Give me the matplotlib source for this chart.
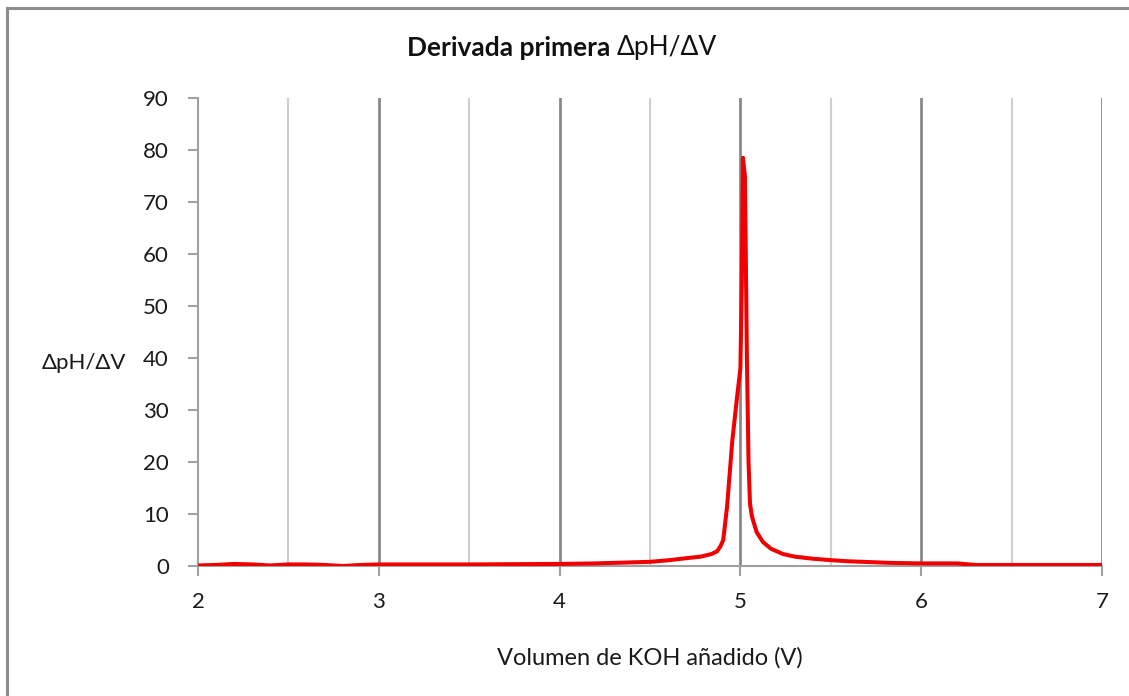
import matplotlib
matplotlib.use('Agg')
import matplotlib.pyplot as plt
from matplotlib.patches import Rectangle

# volumen de KOH (mL) y primera derivada dpH/dV
vol = [2.0, 2.1, 2.2, 2.3, 2.4, 2.5, 2.6, 2.7, 2.8, 2.9, 3.0, 3.5, 4.0, 4.2, 4.4,
       4.5, 4.6, 4.7, 4.78, 4.84, 4.87, 4.89, 4.905, 4.926, 4.955, 4.98, 5.0,
       5.008, 5.014, 5.025, 5.036, 5.045, 5.053, 5.064, 5.09, 5.125, 5.17, 5.236,
       5.3, 5.4, 5.51, 5.6, 5.83, 6.0, 6.2, 6.3, 6.5, 6.6, 7.0]
dpH = [0.1, 0.2, 0.4, 0.3, 0.1, 0.3, 0.3, 0.2, 0.0, 0.2, 0.3, 0.3, 0.4, 0.5, 0.7,
       0.8, 1.1, 1.5, 1.8, 2.3, 2.8, 3.8, 5.0, 11.3, 24.0, 32.0, 38.0,
       55.0, 78.5, 75.0, 40.0, 20.0, 12.0, 9.5, 6.5, 4.6, 3.3, 2.3,
       1.8, 1.4, 1.1, 0.9, 0.6, 0.5, 0.5, 0.2, 0.2, 0.2, 0.2]

major_x = [2, 3, 4, 5, 6, 7]
minor_x = [2.5, 3.5, 4.5, 5.5, 6.5]
yticks = list(range(0, 91, 10))

fnt = 'Lato'
fig = plt.figure(figsize=(11.29, 6.96), dpi=100)
fig.patches.append(Rectangle((7/1129, -0.1), 1.2, 0.1 + (696 - 8)/696,
                             transform=fig.transFigure, fill=False,
                             edgecolor='#8c8c8c', linewidth=2.2))
ax = fig.add_axes([198/1129, 130/696, 904/1129, 468/696])

for x in minor_x:
    ax.axvline(x, color='#cfcfcf', linewidth=1.5, zorder=1)
for x in major_x[1:]:
    ax.axvline(x, color='#8a8a8a', linewidth=2.0, zorder=1)

ax.plot(vol, dpH, color='#f00000', linewidth=2.9, zorder=3, solid_joinstyle='round')

ax.set_xlim(2, 7)
ax.set_ylim(0, 90)
ax.set_xticks(major_x)
ax.set_yticks(yticks)
for s in ['top', 'right']:
    ax.spines[s].set_visible(False)
for s in ['left', 'bottom']:
    ax.spines[s].set_color('#a0a0a0')
    ax.spines[s].set_linewidth(1.5)
ax.tick_params(axis='both', direction='out', color='#a0a0a0', width=1.5,
               length=7, labelsize=16, labelcolor='#1a1a1a')
ax.tick_params(axis='x', pad=12)
ax.tick_params(axis='y', pad=14)
for lab in ax.get_xticklabels() + ax.get_yticklabels():
    lab.set_fontfamily(fnt)

fig.text(650/1129, 1 - 658/696, 'Volumen de KOH añadido (V)', ha='center', va='center',
         fontsize=17, family=fnt, color='#1a1a1a')
fig.text(42/1129, 1 - 363/696, 'ΔpH/ΔV', ha='left', va='center',
         fontsize=16, family=fnt, color='#1a1a1a')
t1 = fig.text(407/1129, 1 - 48/696, 'Derivada primera ', ha='left', va='center',
              fontsize=19, family=fnt, fontweight='bold', color='#111111')
fig.canvas.draw()
bb = t1.get_window_extent()
fig.text(bb.x1 / fig.bbox.width, 1 - 48/696, 'ΔpH/ΔV', ha='left', va='center',
         fontsize=19, family=fnt, color='#111111')

fig.savefig('out.png', dpi=100)
